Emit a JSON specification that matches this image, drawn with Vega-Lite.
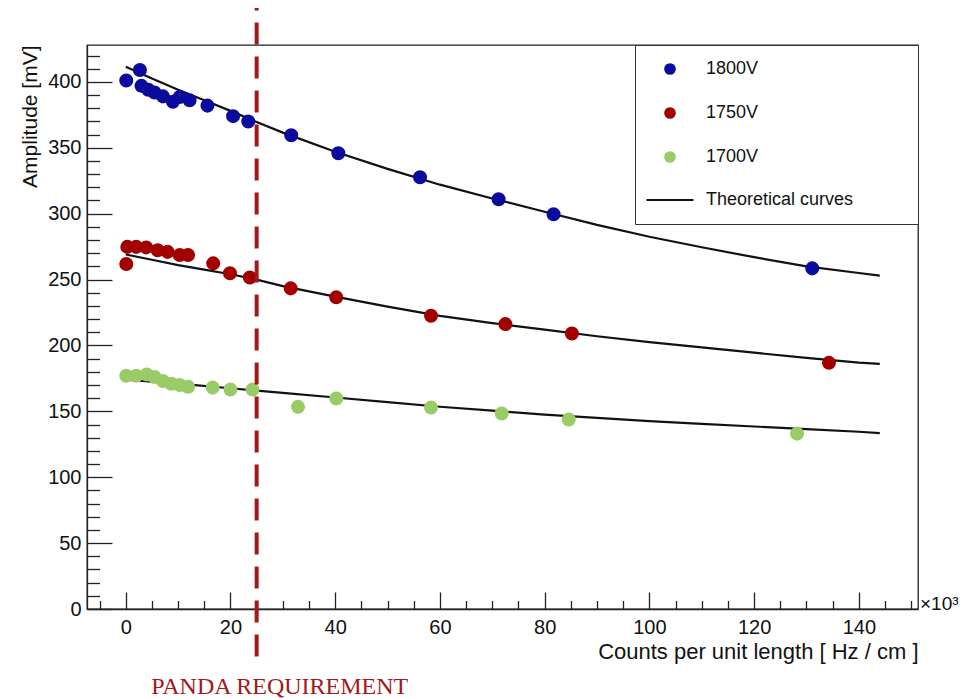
{
  "$schema": "https://vega.github.io/schema/vega-lite/v6.json",
  "width": 831,
  "height": 564,
  "autosize": {"type": "none"},
  "padding": {"left": 87, "top": 45, "right": 47, "bottom": 90},
  "background": "white",
  "config": {
    "font": "Liberation Sans",
    "view": {"stroke": "#222222", "strokeWidth": 1.3},
    "axis": {
      "domainColor": "#222222", "domainWidth": 1.3,
      "tickColor": "#222222", "tickWidth": 1.3,
      "labelColor": "#111111", "titleColor": "#111111",
      "labelFont": "Liberation Sans", "titleFont": "Liberation Sans",
      "labelFontSize": 20, "titleFontSize": 21, "titleFontWeight": "normal",
      "grid": false, "labelOverlap": false, "labelFlush": false
    }
  },
  "datasets": {
    "pts": [
      {"series": "1800V", "x": 0.1, "y": 401},
      {"series": "1800V", "x": 2.7, "y": 409},
      {"series": "1800V", "x": 3.0, "y": 397},
      {"series": "1800V", "x": 4.3, "y": 394},
      {"series": "1800V", "x": 5.5, "y": 392},
      {"series": "1800V", "x": 7.1, "y": 389},
      {"series": "1800V", "x": 9.0, "y": 385},
      {"series": "1800V", "x": 10.3, "y": 388.5},
      {"series": "1800V", "x": 12.2, "y": 386},
      {"series": "1800V", "x": 15.6, "y": 382},
      {"series": "1800V", "x": 20.5, "y": 374},
      {"series": "1800V", "x": 23.4, "y": 370},
      {"series": "1800V", "x": 31.6, "y": 359.5},
      {"series": "1800V", "x": 40.6, "y": 345.9},
      {"series": "1800V", "x": 56.2, "y": 327.7},
      {"series": "1800V", "x": 71.2, "y": 311},
      {"series": "1800V", "x": 81.7, "y": 299.5},
      {"series": "1800V", "x": 131.1, "y": 258.5},
      {"series": "1750V", "x": 0.1, "y": 261.8},
      {"series": "1750V", "x": 0.3, "y": 274.8},
      {"series": "1750V", "x": 2.0, "y": 274.8},
      {"series": "1750V", "x": 3.9, "y": 274.4},
      {"series": "1750V", "x": 6.1, "y": 272.3},
      {"series": "1750V", "x": 8.0, "y": 271},
      {"series": "1750V", "x": 10.3, "y": 268.6},
      {"series": "1750V", "x": 11.9, "y": 268.6},
      {"series": "1750V", "x": 16.7, "y": 262.3},
      {"series": "1750V", "x": 19.9, "y": 254.8},
      {"series": "1750V", "x": 23.7, "y": 251.5},
      {"series": "1750V", "x": 31.5, "y": 243.3},
      {"series": "1750V", "x": 40.2, "y": 236.5},
      {"series": "1750V", "x": 58.3, "y": 222.5},
      {"series": "1750V", "x": 72.5, "y": 216.2},
      {"series": "1750V", "x": 85.2, "y": 209.1},
      {"series": "1750V", "x": 134.3, "y": 186.8},
      {"series": "1700V", "x": 0.1, "y": 177},
      {"series": "1700V", "x": 2.0, "y": 177},
      {"series": "1700V", "x": 4.0, "y": 178},
      {"series": "1700V", "x": 5.5, "y": 176},
      {"series": "1700V", "x": 7.1, "y": 173},
      {"series": "1700V", "x": 8.7, "y": 171},
      {"series": "1700V", "x": 10.3, "y": 170},
      {"series": "1700V", "x": 11.9, "y": 168.7},
      {"series": "1700V", "x": 16.6, "y": 168},
      {"series": "1700V", "x": 20.0, "y": 166.5},
      {"series": "1700V", "x": 24.2, "y": 166.5},
      {"series": "1700V", "x": 32.9, "y": 153.4},
      {"series": "1700V", "x": 40.2, "y": 159.7},
      {"series": "1700V", "x": 58.3, "y": 152.9},
      {"series": "1700V", "x": 71.8, "y": 148.3},
      {"series": "1700V", "x": 84.6, "y": 143.8},
      {"series": "1700V", "x": 128.2, "y": 133.1}
    ],
    "curves": [
      {"series": "1800V", "x": 0, "y": 411.5},
      {"series": "1800V", "x": 5, "y": 402.5},
      {"series": "1800V", "x": 10, "y": 394},
      {"series": "1800V", "x": 15, "y": 386},
      {"series": "1800V", "x": 20, "y": 378},
      {"series": "1800V", "x": 25, "y": 369.5},
      {"series": "1800V", "x": 30, "y": 361.5},
      {"series": "1800V", "x": 40, "y": 347},
      {"series": "1800V", "x": 50, "y": 334},
      {"series": "1800V", "x": 60, "y": 322},
      {"series": "1800V", "x": 70, "y": 311.5},
      {"series": "1800V", "x": 80, "y": 301.5},
      {"series": "1800V", "x": 90, "y": 291.5},
      {"series": "1800V", "x": 100, "y": 282.5},
      {"series": "1800V", "x": 110, "y": 274.5},
      {"series": "1800V", "x": 120, "y": 267},
      {"series": "1800V", "x": 130, "y": 260},
      {"series": "1800V", "x": 140, "y": 255},
      {"series": "1800V", "x": 144, "y": 253},
      {"series": "1750V", "x": 0, "y": 269},
      {"series": "1750V", "x": 5, "y": 265},
      {"series": "1750V", "x": 10, "y": 261},
      {"series": "1750V", "x": 15, "y": 257.5},
      {"series": "1750V", "x": 20, "y": 254},
      {"series": "1750V", "x": 25, "y": 250},
      {"series": "1750V", "x": 30, "y": 245},
      {"series": "1750V", "x": 40, "y": 237},
      {"series": "1750V", "x": 50, "y": 229.5},
      {"series": "1750V", "x": 60, "y": 222.5},
      {"series": "1750V", "x": 70, "y": 217},
      {"series": "1750V", "x": 80, "y": 212},
      {"series": "1750V", "x": 90, "y": 207},
      {"series": "1750V", "x": 100, "y": 202.5},
      {"series": "1750V", "x": 110, "y": 198.5},
      {"series": "1750V", "x": 120, "y": 194.5},
      {"series": "1750V", "x": 130, "y": 190.5},
      {"series": "1750V", "x": 140, "y": 187},
      {"series": "1750V", "x": 144, "y": 186},
      {"series": "1700V", "x": 0, "y": 174},
      {"series": "1700V", "x": 10, "y": 171},
      {"series": "1700V", "x": 20, "y": 167.5},
      {"series": "1700V", "x": 30, "y": 164},
      {"series": "1700V", "x": 40, "y": 160.5},
      {"series": "1700V", "x": 50, "y": 157},
      {"series": "1700V", "x": 60, "y": 153.5},
      {"series": "1700V", "x": 70, "y": 150.5},
      {"series": "1700V", "x": 80, "y": 147.5},
      {"series": "1700V", "x": 90, "y": 145},
      {"series": "1700V", "x": 100, "y": 142.5},
      {"series": "1700V", "x": 110, "y": 140.5},
      {"series": "1700V", "x": 120, "y": 138.5},
      {"series": "1700V", "x": 130, "y": 136.5},
      {"series": "1700V", "x": 140, "y": 134.5},
      {"series": "1700V", "x": 144, "y": 133.5}
    ]
  },
  "encoding": {
    "x": {
      "field": "x", "type": "quantitative",
      "scale": {"domain": [-7.4, 151.3], "nice": false, "zero": false},
      "axis": {
        "title": "Counts per unit length [ Hz / cm ]",
        "titleAnchor": "end", "titleAlign": "right", "titlePadding": -4, "titleFontSize": 22,
        "values": [-5, 0, 5, 10, 15, 20, 25, 30, 35, 40, 45, 50, 55, 60, 65, 70, 75, 80, 85, 90, 95, 100, 105, 110, 115, 120, 125, 130, 135, 140, 145, 150],
        "labelExpr": "(datum.value % 20 === 0 && datum.value >= 0 && datum.value <= 140) ? datum.label : ''",
        "tickSize": {"condition": {"test": "datum.value % 20 === 0", "value": -17}, "value": -8.5},
        "labelPadding": 25
      }
    },
    "y": {
      "field": "y", "type": "quantitative",
      "scale": {"domain": [0, 428], "nice": false, "zero": false},
      "axis": {
        "title": "Amplitude [mV]",
        "titleAnchor": "end", "titlePadding": 7,
        "values": [0, 10, 20, 30, 40, 50, 60, 70, 80, 90, 100, 110, 120, 130, 140, 150, 160, 170, 180, 190, 200, 210, 220, 230, 240, 250, 260, 270, 280, 290, 300, 310, 320, 330, 340, 350, 360, 370, 380, 390, 400, 410, 420],
        "labelExpr": "datum.value % 50 === 0 ? datum.label : ''",
        "tickSize": {"condition": {"test": "datum.value % 50 === 0", "value": -25}, "value": -12.5},
        "labelPadding": 31
      }
    }
  },
  "layer": [
    {
      "data": {"name": "curves"},
      "mark": {"type": "line", "color": "#111111", "strokeWidth": 2.2},
      "encoding": {"detail": {"field": "series"}}
    },
    {
      "data": {"name": "pts"},
      "mark": {"type": "point", "filled": true, "size": 145, "opacity": 1, "strokeWidth": 2},
      "encoding": {
        "fill": {
          "field": "series", "type": "nominal",
          "scale": {"domain": ["1800V", "1750V", "1700V", "Theoretical curves"], "range": ["#0b0b9e", "#a30000", "#99cc66", "#111111"]},
          "legend": {
            "title": null, "orient": "top-right", "offset": 0,
            "padding": 15, "strokeColor": "#333333", "fillColor": "white",
            "labelFontSize": 18, "labelColor": "#111111", "labelFont": "Liberation Sans", "labelLimit": 0,
            "symbolSize": 90, "symbolStrokeWidth": 2.2, "symbolOffset": 11, "labelOffset": 27, "rowPadding": 24,
            "labelExpr": "datum.label + '\u00a0\u00a0\u2800\u2800\u2800'"
          }
        },
        "stroke": {
          "field": "series", "type": "nominal",
          "scale": {"domain": ["1800V", "1750V", "1700V", "Theoretical curves"], "range": ["#0b0b9e", "#a30000", "#99cc66", "#111111"]},
          "legend": {"title": null}
        },
        "shape": {
          "field": "series", "type": "nominal",
          "scale": {"domain": ["1800V", "1750V", "1700V", "Theoretical curves"], "range": ["circle", "circle", "circle", "M-4.95,0L4.95,0"]},
          "legend": {"title": null}
        }
      }
    },
    {
      "data": {"values": [{"x": 25, "y": -36, "y2": 456}]},
      "mark": {"type": "rule", "color": "#a31818", "strokeWidth": 4, "strokeDash": [22, 12], "clip": false},
      "encoding": {"y2": {"field": "y2"}}
    },
    {
      "data": {"values": [{"x": 151.3, "y": 0, "t": "×10³"}]},
      "mark": {"type": "text", "align": "left", "baseline": "bottom", "dx": 2, "dy": 5, "fontSize": 19, "color": "#111111", "font": "Liberation Sans", "clip": false},
      "encoding": {"text": {"field": "t"}}
    },
    {
      "data": {"values": [{"x": 29.4, "y": -59, "t": "PANDA REQUIREMENT"}]},
      "mark": {"type": "text", "align": "center", "baseline": "middle", "fontSize": 24, "color": "#a31818", "font": "Liberation Serif", "clip": false},
      "encoding": {"text": {"field": "t"}}
    }
  ]
}
